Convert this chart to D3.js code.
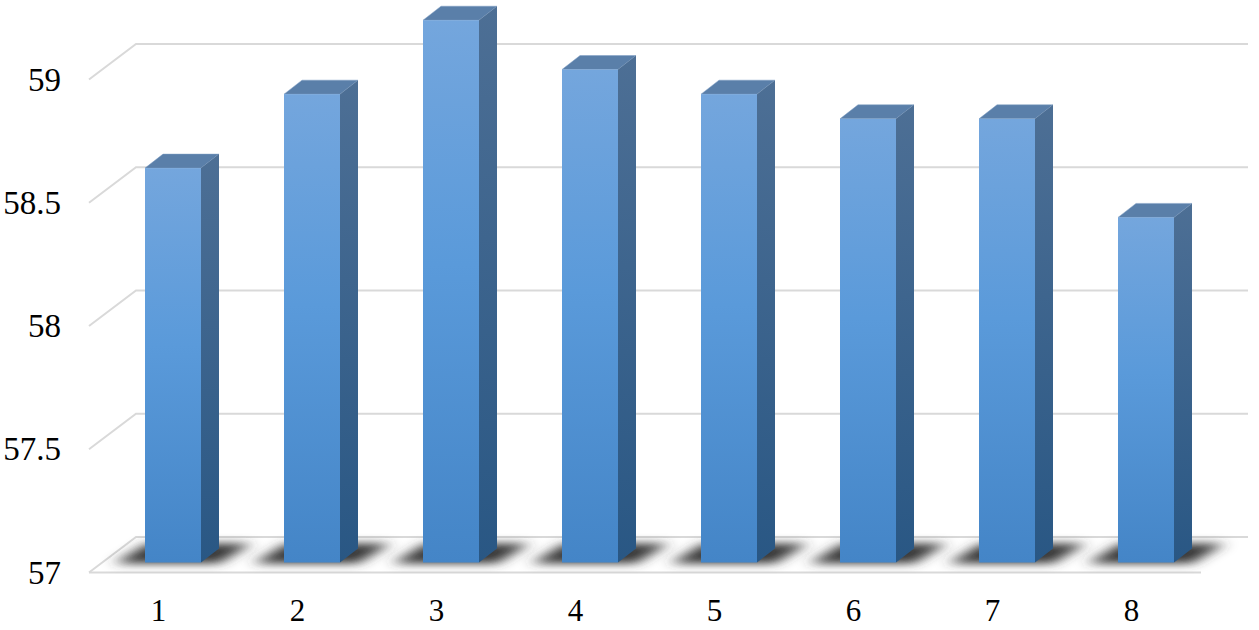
<!DOCTYPE html>
<html>
<head>
<meta charset="utf-8">
<script src="https://cdn.jsdelivr.net/npm/d3@7"></script>
<style>
html, body { margin: 0; padding: 0; background: #fff; }
svg { display: block; }
text { font-family: "Liberation Serif", serif; fill: #000; }
</style>
</head>
<body>
<svg id="chart" width="1259" height="630"></svg>
<script>
var categories = ["1", "2", "3", "4", "5", "6", "7", "8"];
var values = [58.6, 58.9, 59.2, 59.0, 58.9, 58.8, 58.8, 58.4];
var yTicks = [57, 57.5, 58, 58.5, 59];

var svg = d3.select("#chart");

// front plane of the 3d box
var x = d3.scaleBand().domain(categories).range([89, 1201]);
var y = d3.scaleLinear().domain([57, 59]).range([572.5, 79.5]);

var floorDx = 47, floorDy = 35.5;   // how far the back wall sits from the front plane
var barInX = 56, barInY = 10;       // bar front face, relative to band start and floor front
var barW = 56, depthX = 18, depthY = 14;

var defs = svg.append("defs");

var addGrad = function(id, stops){
    var g = defs.append("linearGradient").attr("id", id)
	.attr("x1", 0).attr("y1", 0).attr("x2", 0).attr("y2", 1);
    stops.forEach(function(s){
	g.append("stop").attr("offset", s[0]).attr("stop-color", s[1]);
    });
};
addGrad("front", [[0, "#74a6dd"], [0.45, "#5a9ada"], [1, "#4485c7"]]);
addGrad("side", [[0, "#4d6f95"], [1, "#295784"]]);

defs.append("filter").attr("id", "blur")
    .attr("x", "-50%").attr("y", "-150%").attr("width", "200%").attr("height", "400%")
    .append("feGaussianBlur").attr("stdDeviation", "8 4");

// gridlines: back wall plus the short diagonal on the left side wall
var grid = svg.append("g").attr("fill", "none").attr("stroke", "#d9d9d9").attr("stroke-width", 2);
yTicks.forEach(function(t){
    var yy = y(t);
    grid.append("polyline")
	.attr("points", [[x.range()[0], yy], [x.range()[0] + floorDx, yy - floorDy], [x.range()[1] + floorDx, yy - floorDy]].join(" "));
});
grid.append("line")
    .attr("x1", x.range()[0]).attr("x2", x.range()[1])
    .attr("y1", y(57)).attr("y2", y(57));

// shadows on the floor
svg.append("g").selectAll("polygon").data(categories).enter().append("polygon")
    .attr("fill", "#383838")
    .attr("filter", "url(#blur)")
    .attr("points", function(d){
	var x0 = x(d) + barInX, base = y(57);
	return [
	    [x0 - 30, base - 9],
	    [x0 + barW + 18, base - 9],
	    [x0 + barW + 50, base - 29],
	    [x0 + 2, base - 29]
	].join(" ");
    });

var barY = function(v){ return y(v) - barInY; };

var bars = svg.append("g").selectAll("g").data(values).enter().append("g");

// top face
bars.append("polygon")
    .attr("fill", "#5a7fa9")
    .attr("stroke", "#7f9fc4").attr("stroke-width", 0.5)
    .attr("points", function(d, i){
	var l = x(categories[i]) + barInX, t = barY(d);
	return [[l, t], [l + depthX, t - depthY], [l + barW + depthX, t - depthY], [l + barW, t]].join(" ");
    });

// side face
bars.append("polygon")
    .attr("fill", "url(#side)")
    .attr("points", function(d, i){
	var r = x(categories[i]) + barInX + barW, t = barY(d), b = barY(57);
	return [[r, t], [r + depthX, t - depthY], [r + depthX, b - depthY], [r, b]].join(" ");
    });

// front face
bars.append("rect")
    .attr("fill", "url(#front)")
    .attr("x", function(d, i){ return x(categories[i]) + barInX; })
    .attr("y", function(d){ return barY(d); })
    .attr("width", barW)
    .attr("height", function(d){ return barY(57) - barY(d); });

// axes, text only
var yAxis = d3.axisLeft(y).tickValues(yTicks).tickSize(0).tickPadding(0).tickFormat(function(d){ return String(d); });
var gy = svg.append("g").attr("transform", "translate(61,0)").call(yAxis);
gy.select(".domain").remove();
gy.selectAll("text").style("font-family", '"Liberation Serif", serif').style("font-size", "33px").attr("fill", "#000");

var xAxis = d3.axisBottom(x).tickSize(0).tickPadding(0);
var gx = svg.append("g").attr("transform", "translate(0,599)").call(xAxis);
gx.select(".domain").remove();
gx.selectAll("text").style("font-family", '"Liberation Serif", serif').style("font-size", "31px").attr("fill", "#000");
</script>
</body>
</html>
